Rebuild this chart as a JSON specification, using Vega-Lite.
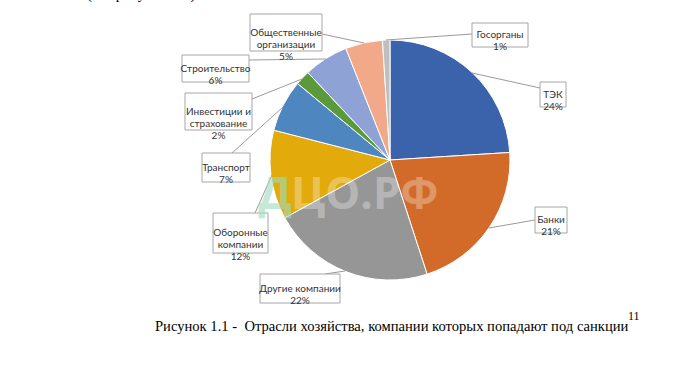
{
  "$schema": "https://vega.github.io/schema/vega-lite/v6.json",
  "autosize": {"type": "fit", "contains": "padding"},
  "width": 685,
  "height": 388,
  "padding": 0,
  "background": "white",
  "config": {"view": {"stroke": null}},
  "datasets": {
    "slices": [
      {"sector": "ТЭК", "value": 24, "order": 1, "cx": 390, "cy": 160},
      {"sector": "Банки", "value": 21, "order": 2, "cx": 390, "cy": 160},
      {"sector": "Другие компании", "value": 22, "order": 3, "cx": 390, "cy": 160},
      {"sector": "Оборонные компании", "value": 12, "order": 4, "cx": 390, "cy": 160},
      {"sector": "Транспорт", "value": 7, "order": 5, "cx": 390, "cy": 160},
      {"sector": "Инвестиции и страхование", "value": 2, "order": 6, "cx": 390, "cy": 160},
      {"sector": "Строительство", "value": 6, "order": 7, "cx": 390, "cy": 160},
      {"sector": "Общественные организации", "value": 5, "order": 8, "cx": 390, "cy": 160},
      {"sector": "Госорганы", "value": 1, "order": 9, "cx": 390, "cy": 160}
    ],
    "labels": [
      {"label": "ТЭК\n24%", "bx1": 540, "bx2": 566, "by1": 82, "by2": 107, "px": 472, "py": 73, "ex": 540, "ey": 88},
      {"label": "Банки\n21%", "bx1": 535, "bx2": 567, "by1": 207, "by2": 233, "px": 489, "py": 228, "ex": 535, "ey": 220},
      {"label": "Другие компании\n22%", "bx1": 260, "bx2": 340, "by1": 274, "by2": 303, "px": 345, "py": 271, "ex": 325, "ey": 274},
      {"label": "Оборонные\nкомпании\n12%", "bx1": 213, "bx2": 268, "by1": 213, "by2": 253, "px": 272, "py": 175, "ex": 255, "ey": 213},
      {"label": "Транспорт\n7%", "bx1": 202, "bx2": 250, "by1": 153, "by2": 182, "px": 283, "py": 107, "ex": 232, "ey": 153},
      {"label": "Инвестиции и\nстрахование\n2%", "bx1": 185, "bx2": 252, "by1": 93, "by2": 130, "px": 302, "py": 79, "ex": 252, "ey": 99},
      {"label": "Строительство\n6%", "bx1": 182, "bx2": 249, "by1": 55, "by2": 82, "px": 326, "py": 59, "ex": 249, "ey": 60},
      {"label": "Общественные\nорганизации\n5%", "bx1": 250, "bx2": 322, "by1": 14, "by2": 51, "px": 364, "py": 43, "ex": 322, "ey": 34},
      {"label": "Госорганы\n1%", "bx1": 472, "bx2": 528, "by1": 23, "by2": 47, "px": 386, "py": 40, "ex": 472, "ey": 34}
    ],
    "wm1": [{"t": "Д", "x": 275, "y": 196}],
    "wm2": [{"t": "ЦО.РФ", "x": 291, "y": 196}],
    "caption": [{"t": "Рисунок 1.1 - \u00a0Отрасли хозяйства, компании которых попадают под санкции", "x": 155, "y": 331}],
    "sup": [{"t": "11", "x": 628, "y": 320}],
    "top": [{"t": "(см. рисунок 1.1)", "x": 87, "y": -1}]
  },
  "layer": [
    {
      "data": {"name": "slices"},
      "mark": {"type": "arc", "outerRadius": 120, "stroke": "white", "strokeWidth": 1},
      "encoding": {
        "x": {"field": "cx", "type": "quantitative", "scale": {"domain": [0, 685]}, "axis": null},
        "y": {"field": "cy", "type": "quantitative", "scale": {"domain": [0, 388], "reverse": true}, "axis": null},
        "theta": {"field": "value", "type": "quantitative", "stack": true},
        "order": {"field": "order", "type": "quantitative"},
        "color": {
          "field": "sector", "type": "nominal", "legend": null,
          "scale": {
            "domain": ["ТЭК", "Банки", "Другие компании", "Оборонные компании", "Транспорт", "Инвестиции и страхование", "Строительство", "Общественные организации", "Госорганы"],
            "range": ["#3A63AC", "#D26A2A", "#969696", "#E2AA0A", "#4E86C0", "#5A9A3A", "#8EA2D6", "#F1A98A", "#BFBFBF"]
          }
        }
      }
    },
    {
      "data": {"name": "labels"},
      "mark": {"type": "rule", "stroke": "#9a9a9a", "strokeWidth": 1},
      "encoding": {
        "x": {"field": "px", "type": "quantitative", "scale": {"domain": [0, 685]}, "axis": null},
        "y": {"field": "py", "type": "quantitative", "scale": {"domain": [0, 388], "reverse": true}, "axis": null},
        "x2": {"field": "ex"},
        "y2": {"field": "ey"}
      }
    },
    {
      "data": {"name": "labels"},
      "mark": {"type": "rect", "fill": "white", "stroke": "#a6a6a6", "strokeWidth": 1},
      "encoding": {
        "x": {"field": "bx1", "type": "quantitative", "scale": {"domain": [0, 685]}, "axis": null},
        "x2": {"field": "bx2"},
        "y": {"field": "by1", "type": "quantitative", "scale": {"domain": [0, 388], "reverse": true}, "axis": null},
        "y2": {"field": "by2"}
      }
    },
    {
      "data": {"name": "labels"},
      "transform": [
        {"calculate": "(datum.bx1 + datum.bx2) / 2", "as": "tx"},
        {"calculate": "(datum.by1 + datum.by2) / 2", "as": "ty"}
      ],
      "mark": {"type": "text", "font": "Lato", "fontSize": 10, "color": "#333333", "align": "center", "baseline": "middle", "lineBreak": "\n", "lineHeight": 12},
      "encoding": {
        "x": {"field": "tx", "type": "quantitative", "scale": {"domain": [0, 685]}, "axis": null},
        "y": {"field": "ty", "type": "quantitative", "scale": {"domain": [0, 388], "reverse": true}, "axis": null},
        "text": {"field": "label"}
      }
    },
    {
      "data": {"name": "wm1"},
      "mark": {"type": "text", "font": "Open Sans", "fontWeight": "bold", "fontSize": 44, "color": "#9fdcbc", "opacity": 0.6, "align": "center", "baseline": "middle"},
      "encoding": {
        "x": {"field": "x", "type": "quantitative", "scale": {"domain": [0, 685]}, "axis": null},
        "y": {"field": "y", "type": "quantitative", "scale": {"domain": [0, 388], "reverse": true}, "axis": null},
        "text": {"field": "t"}
      }
    },
    {
      "data": {"name": "wm2"},
      "mark": {"type": "text", "font": "Open Sans", "fontWeight": "bold", "fontSize": 44, "color": "white", "opacity": 0.3, "align": "left", "baseline": "middle"},
      "encoding": {
        "x": {"field": "x", "type": "quantitative", "scale": {"domain": [0, 685]}, "axis": null},
        "y": {"field": "y", "type": "quantitative", "scale": {"domain": [0, 388], "reverse": true}, "axis": null},
        "text": {"field": "t"}
      }
    },
    {
      "data": {"name": "caption"},
      "mark": {"type": "text", "font": "Liberation Serif", "fontSize": 14.6, "color": "black", "align": "left", "baseline": "alphabetic"},
      "encoding": {
        "x": {"field": "x", "type": "quantitative", "scale": {"domain": [0, 685]}, "axis": null},
        "y": {"field": "y", "type": "quantitative", "scale": {"domain": [0, 388], "reverse": true}, "axis": null},
        "text": {"field": "t"}
      }
    },
    {
      "data": {"name": "sup"},
      "mark": {"type": "text", "font": "Liberation Serif", "fontSize": 12, "color": "black", "align": "left", "baseline": "alphabetic"},
      "encoding": {
        "x": {"field": "x", "type": "quantitative", "scale": {"domain": [0, 685]}, "axis": null},
        "y": {"field": "y", "type": "quantitative", "scale": {"domain": [0, 388], "reverse": true}, "axis": null},
        "text": {"field": "t"}
      }
    },
    {
      "data": {"name": "top"},
      "mark": {"type": "text", "font": "Liberation Serif", "fontSize": 15, "color": "black", "align": "left", "baseline": "alphabetic", "clip": true},
      "encoding": {
        "x": {"field": "x", "type": "quantitative", "scale": {"domain": [0, 685]}, "axis": null},
        "y": {"field": "y", "type": "quantitative", "scale": {"domain": [0, 388], "reverse": true}, "axis": null},
        "text": {"field": "t"}
      }
    }
  ]
}
